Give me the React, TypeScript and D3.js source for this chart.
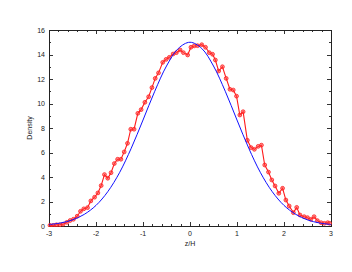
import { useEffect, useRef } from "react";
import * as d3 from "d3";

// measured profile (red points)
const zPoints = [
  -2.98, -2.91, -2.84, -2.77, -2.7, -2.62, -2.55, -2.48, -2.4, -2.33, -2.26,
  -2.18, -2.11, -2.03, -1.96, -1.89, -1.82, -1.75, -1.68, -1.61, -1.54, -1.47,
  -1.4, -1.33, -1.26, -1.19, -1.11, -1.04, -0.96, -0.88, -0.81, -0.74, -0.67,
  -0.58, -0.51, -0.44, -0.36, -0.29, -0.21, -0.14, -0.05, 0.02, 0.09, 0.16,
  0.25, 0.33, 0.41, 0.48, 0.54, 0.61, 0.69, 0.77, 0.85, 0.92, 0.99, 1.06, 1.13,
  1.22, 1.3, 1.37, 1.45, 1.52, 1.59, 1.67, 1.74, 1.81, 1.89, 1.97, 2.04, 2.11,
  2.2, 2.27, 2.34, 2.43, 2.5, 2.57, 2.64, 2.71, 2.79, 2.86, 2.93, 2.97,
];
const densityPoints = [
  0.05, 0.05, 0.1, 0.1, 0.15, 0.3, 0.45, 0.55, 0.8, 1.2, 1.4, 1.5, 2.05, 2.35,
  2.7, 3.3, 4.2, 3.9, 4.35, 5.1, 5.45, 5.45, 6.05, 6.75, 7.9, 7.9, 9.2, 9.5,
  10.1, 10.55, 11.3, 12.05, 12.5, 13.36, 13.6, 13.77, 14.04, 14.15, 14.37,
  14.15, 13.96, 14.59, 14.7, 14.72, 14.8, 14.59, 14.15, 14.02, 13.55, 12.65,
  13.0, 12.05, 11.16, 11.1, 10.6, 9.06, 9.33, 7.0, 6.4, 6.26, 6.5, 6.6, 4.98,
  4.4, 3.76, 3.27, 2.67, 3.08, 2.12, 1.63, 1.09, 1.52, 0.9, 0.76, 0.68, 0.54,
  0.76, 0.44, 0.27, 0.22, 0.27, 0.22,
];

// model curve (blue)
const zModel = [
  -3, -2.75, -2.5, -2.25, -2, -1.75, -1.5, -1.25, -1, -0.75, -0.5, -0.25, 0,
  0.25, 0.5, 0.75, 1, 1.25, 1.5, 1.75, 2, 2.25, 2.5, 2.75, 3,
];
const densityModel = [
  0.12, 0.25, 0.5, 0.95, 1.68, 2.8, 4.35, 6.35, 8.65, 11.0, 13.06, 14.49, 15,
  14.49, 13.06, 11.0, 8.65, 6.35, 4.35, 2.8, 1.68, 0.95, 0.5, 0.25, 0.12,
];

const xTicks = [-3, -2, -1, 0, 1, 2, 3];
const yTicks = [0, 2, 4, 6, 8, 10, 12, 14, 16];

const App = () => {
  const chartRef = useRef(null);

  useEffect(() => {
    d3.select(chartRef.current).selectAll("*").remove();

    const W = 352;
    const H = 272;
    const left = 49;
    const right = 331;
    const top = 30;
    const bottom = 226;

    const svg = d3
      .select(chartRef.current)
      .attr("width", W)
      .attr("height", H)
      .style("font-family", "'Liberation Sans', Arial, sans-serif");

    svg.append("rect").attr("width", W).attr("height", H).attr("fill", "#fff");

    const x = d3.scaleLinear().domain([-3, 3]).range([left, right]);
    const y = d3.scaleLinear().domain([0, 16]).range([bottom, top]);

    // minor / major ticks, mirrored on all four sides
    const g = svg.append("g").attr("stroke", "#333").attr("stroke-width", 1);
    x.ticks(30).forEach((t) => {
      const major = Math.abs(t - Math.round(t)) < 1e-6;
      const len = major ? 4 : 2;
      const px = Math.round(x(t)) + 0.5;
      g.append("line").attr("x1", px).attr("x2", px).attr("y1", bottom).attr("y2", bottom - len);
      g.append("line").attr("x1", px).attr("x2", px).attr("y1", top).attr("y2", top + len);
    });
    y.ticks(16).forEach((t) => {
      const major = t % 2 === 0;
      const len = major ? 4 : 2;
      const py = Math.round(y(t)) + 0.5;
      g.append("line").attr("x1", left).attr("x2", left + len).attr("y1", py).attr("y2", py);
      g.append("line").attr("x1", right).attr("x2", right - len).attr("y1", py).attr("y2", py);
    });

    // frame
    svg
      .append("rect")
      .attr("x", left + 0.5)
      .attr("y", top + 0.5)
      .attr("width", right - left)
      .attr("height", bottom - top)
      .attr("fill", "none")
      .attr("stroke", "#222")
      .attr("stroke-width", 1);

    // tick labels
    svg
      .append("g")
      .selectAll("text")
      .data(xTicks)
      .join("text")
      .attr("x", (d) => x(d))
      .attr("y", bottom + 10)
      .attr("text-anchor", "middle")
      .attr("font-size", 7)
      .attr("fill", "#222")
      .text((d) => (d < 0 ? `-${-d}` : `${d}`));

    svg
      .append("g")
      .selectAll("text")
      .data(yTicks)
      .join("text")
      .attr("x", left - 4)
      .attr("y", (d) => y(d) + 2.5)
      .attr("text-anchor", "end")
      .attr("font-size", 7)
      .attr("fill", "#222")
      .text((d) => d);

    // axis titles
    svg
      .append("text")
      .attr("x", (left + right) / 2)
      .attr("y", bottom + 20)
      .attr("text-anchor", "middle")
      .attr("font-size", 7)
      .attr("fill", "#222")
      .text("z/H");
    svg
      .append("text")
      .attr("transform", `translate(32, ${(top + bottom) / 2}) rotate(-90)`)
      .attr("text-anchor", "middle")
      .attr("font-size", 7)
      .attr("fill", "#222")
      .text("Density");

    svg
      .append("defs")
      .append("clipPath")
      .attr("id", "plot-clip")
      .append("rect")
      .attr("x", left - 2)
      .attr("y", top)
      .attr("width", right - left + 4)
      .attr("height", bottom - top + 1);

    const plot = svg.append("g").attr("clip-path", "url(#plot-clip)");

    // measured points
    const pts = zPoints.map((z, i) => [z, densityPoints[i]] as [number, number]);
    const line: any = d3
      .line<[number, number]>()
      .x((d) => x(d[0]))
      .y((d) => y(d[1]));

    plot
      .append("path")
      .datum(pts)
      .attr("fill", "none")
      .attr("stroke", "#ff1a1a")
      .attr("stroke-width", 1.1)
      .attr("d", line);

    plot
      .append("g")
      .selectAll("circle")
      .data(pts)
      .join("circle")
      .attr("cx", (d) => x(d[0]))
      .attr("cy", (d) => y(d[1]))
      .attr("r", 1.9)
      .attr("fill", "rgba(255,60,60,0.55)")
      .attr("stroke", "#ff2020")
      .attr("stroke-width", 0.8);

    // model curve
    const model = zModel.map((z, i) => [z, densityModel[i]] as [number, number]);
    const curve: any = d3
      .line<[number, number]>()
      .x((d) => x(d[0]))
      .y((d) => y(d[1]))
      .curve(d3.curveCatmullRom);

    plot
      .append("path")
      .datum(model)
      .attr("fill", "none")
      .attr("stroke", "#1010ff")
      .attr("stroke-width", 1)
      .attr("d", curve);
  }, []);

  return (
    <svg
      ref={chartRef}
      style={{ position: "absolute", left: 0, top: 0, display: "block" }}
    ></svg>
  );
};

export default App;
